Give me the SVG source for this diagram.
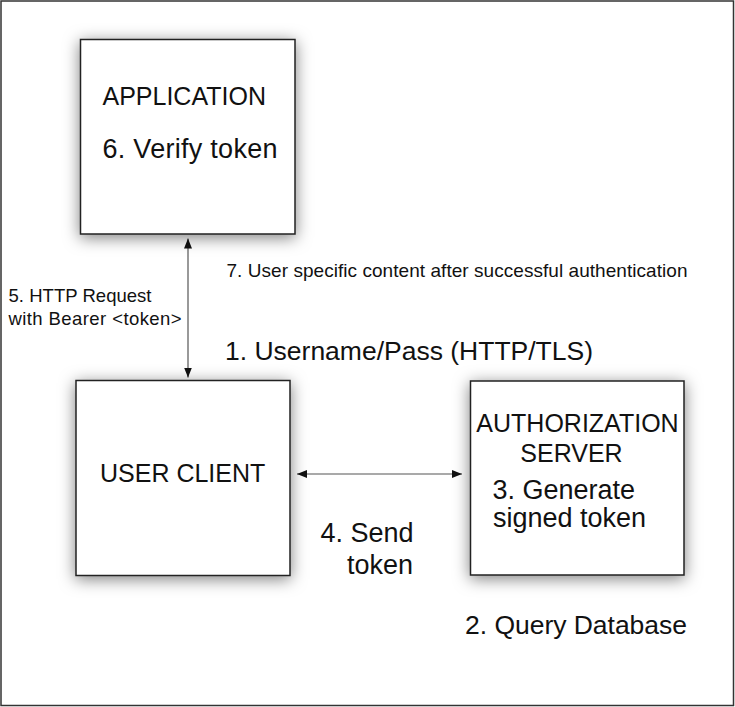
<svg xmlns="http://www.w3.org/2000/svg" width="735" height="707" viewBox="0 0 735 707">
<defs>
<style>
.box{fill:#fff;stroke:#222;stroke-width:1.5;filter:url(#sh)}
.t{font-family:"Liberation Sans",Arial,sans-serif;fill:#111}
.conn{stroke:#555;stroke-width:1.2;fill:none;marker-start:url(#ah);marker-end:url(#ah)}
</style>
<filter id="sh" x="-25%" y="-25%" width="150%" height="150%">
<feDropShadow dx="0" dy="3" stdDeviation="8" flood-color="#000" flood-opacity="0.5"/>
</filter>
<marker id="ah" viewBox="0 0 10 8" refX="10" refY="4" markerWidth="10" markerHeight="8" markerUnits="userSpaceOnUse" orient="auto-start-reverse">
<path d="M0,0 L10,4 L0,8 Z" fill="#111"/>
</marker>
</defs>
<rect x="0" y="0" width="735" height="707" fill="#fff"/>
<rect x="1" y="1" width="732.5" height="704.5" fill="none" stroke="#333" stroke-width="1.5"/>

<g id="connectors">
<line class="conn" x1="188" y1="238.5" x2="188" y2="377.5"/>
<line class="conn" x1="297" y1="474" x2="462" y2="474"/>
</g>

<g id="application">
<rect class="box" x="80.5" y="39.5" width="214.5" height="194.5"/>
<text class="t" x="102.5" y="105" font-size="25">APPLICATION</text>
<text class="t" x="102.5" y="158" font-size="27" textLength="175" lengthAdjust="spacing">6. Verify token</text>
</g>

<g id="user-client">
<rect class="box" x="76" y="380.5" width="214" height="195"/>
<text class="t" x="100" y="482" font-size="25">USER CLIENT</text>
</g>

<g id="authorization-server">
<rect class="box" x="470.5" y="381" width="213.5" height="194"/>
<text class="t" x="577.5" y="431.5" font-size="25" text-anchor="middle">AUTHORIZATION</text>
<text class="t" x="571.5" y="461.5" font-size="25" text-anchor="middle">SERVER</text>
<text class="t" x="492.5" y="499" font-size="27">3. Generate</text>
<text class="t" x="493" y="527" font-size="27">signed token</text>
</g>

<g id="labels">
<text class="t" x="226.5" y="276.5" font-size="19" textLength="461" lengthAdjust="spacing">7. User specific content after successful authentication</text>
<text class="t" x="8.5" y="302" font-size="18.5" textLength="143" lengthAdjust="spacing">5. HTTP Request</text>
<text class="t" x="8.5" y="324.5" font-size="18.5" textLength="173" lengthAdjust="spacing">with Bearer &lt;token&gt;</text>
<text class="t" x="225" y="360" font-size="26.5" textLength="368" lengthAdjust="spacing">1. Username/Pass (HTTP/TLS)</text>
<text class="t" x="413.5" y="541.5" font-size="27" text-anchor="end">4. Send</text>
<text class="t" x="413" y="573.5" font-size="27" text-anchor="end">token</text>
<text class="t" x="465" y="634" font-size="26.5" textLength="222" lengthAdjust="spacing">2. Query Database</text>
</g>
</svg>
